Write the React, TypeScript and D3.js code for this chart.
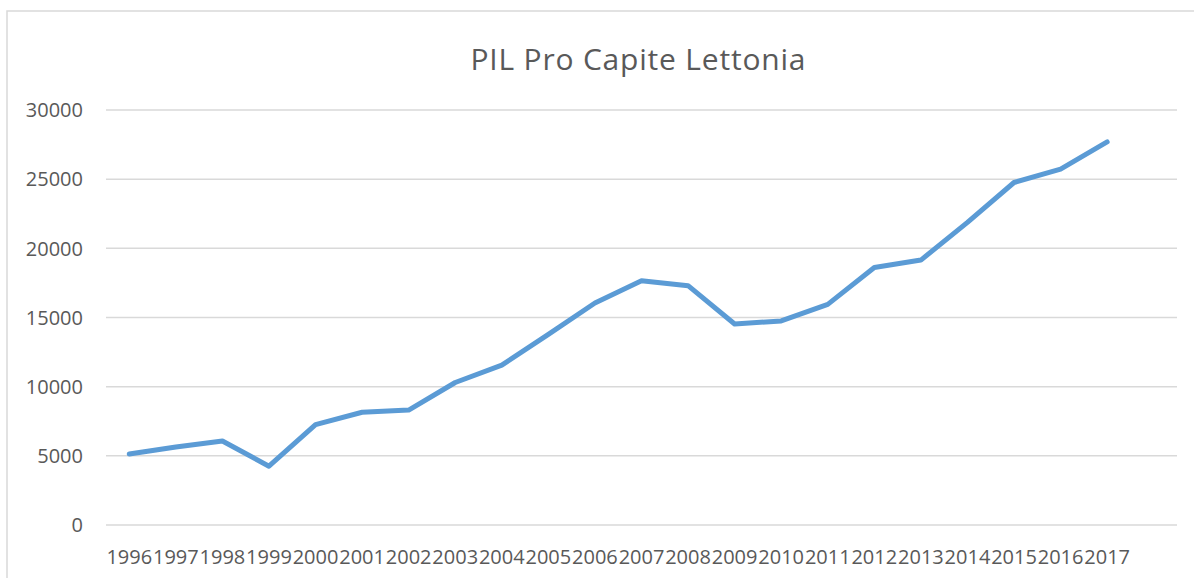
import React from "react";
import * as d3 from "d3";

const years = [
  "1996", "1997", "1998", "1999", "2000", "2001", "2002", "2003", "2004", "2005", "2006",
  "2007", "2008", "2009", "2010", "2011", "2012", "2013", "2014", "2015", "2016", "2017",
];
const gdpPerCapita = [
  5130, 5640, 6070, 4250, 7260, 8150, 8310, 10300, 11560, 13780, 16050,
  17660, 17300, 14530, 14750, 15950, 18620, 19150, 21880, 24760, 25730, 27690,
];
const yTicks = [0, 5000, 10000, 15000, 20000, 25000, 30000];
const title = "PIL Pro Capite Lettonia";

const width = 1194;
const height = 578;
const plotLeft = 106;
const plotRight = 1177;
const plotTop = 110;
const plotBottom = 525;
// categories take 22 of the 23 slots across the plot (Excel leaves an empty slot)
const slot = (plotRight - plotLeft) / 23;

const App = () => {
  const x = d3
    .scaleBand()
    .domain(years)
    .range([plotLeft, plotLeft + slot * years.length]);

  const y = d3.scaleLinear().domain([0, 30000]).range([plotBottom, plotTop]);

  const line = d3
    .line<number>()
    .x((_, i) => (x(years[i]) as number) + x.bandwidth() / 2)
    .y((d) => y(d));

  const font = "'Open Sans', 'DejaVu Sans', sans-serif";

  return (
    <svg
      width={width}
      height={height}
      style={{ position: "absolute", left: 0, top: 0, background: "#fff" }}
    >
      <rect x={7} y={11} width={1300} height={700} fill="#fff" stroke="#d9d9d9" strokeWidth={1.5} />

      <text
        x={638}
        y={70}
        textAnchor="middle"
        fontFamily={font}
        fontSize={30}
        textLength={335}
        lengthAdjust="spacing"
        fill="#595959"
      >
        {title}
      </text>

      {yTicks.map((t) => (
        <g key={t}>
          <line x1={plotLeft} x2={plotRight} y1={y(t)} y2={y(t)} stroke="#d9d9d9" strokeWidth={1.5} />
          <text
            x={83}
            y={y(t)}
            dy="0.36em"
            textAnchor="end"
            fontFamily={font}
            fontSize={20}
            fill="#595959"
          >
            {t}
          </text>
        </g>
      ))}

      {years.map((yr) => (
        <text
          key={yr}
          x={(x(yr) as number) + x.bandwidth() / 2}
          y={564}
          textAnchor="middle"
          fontFamily={font}
          fontSize={20}
          fill="#595959"
        >
          {yr}
        </text>
      ))}

      <path
        d={line(gdpPerCapita) ?? ""}
        fill="none"
        stroke="#5b9bd5"
        strokeWidth={5}
        strokeLinejoin="round"
        strokeLinecap="round"
      />
    </svg>
  );
};

export default App;
